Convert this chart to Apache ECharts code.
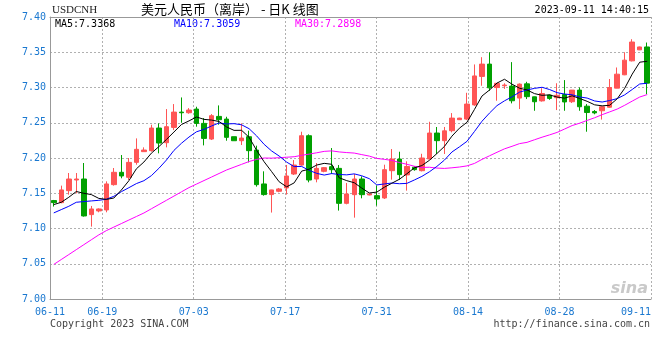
<!DOCTYPE html>
<html><head><meta charset="utf-8">
<script src="https://cdn.jsdelivr.net/npm/echarts@6/dist/echarts.min.js"></script>
<style>html,body{margin:0;padding:0;background:#fff}#c{width:660px;height:360px}</style>
</head><body><div id="c"></div>
<script>
// Daily candles, USD/CNH (80 sessions shown)
const opens = [7.1396,7.1367,7.1537,7.1688,7.1702,7.1197,7.1249,7.1263,7.1622,7.1797,
  7.1726,7.1938,7.2090,7.2104,7.2425,7.2217,7.2434,7.2651,7.2642,7.2694,
  7.2491,7.2269,7.2590,7.2552,7.2302,7.2245,7.2302,7.2113,7.1632,7.1481,
  7.1528,7.1575,7.1773,7.1900,7.2316,7.1702,7.1811,7.1877,7.1853,7.1357,
  7.1480,7.1702,7.1476,7.1466,7.1433,7.1820,7.1985,7.1760,7.1870,7.1820,
  7.1986,7.2354,7.2246,7.2387,7.2543,7.2552,7.2753,7.3157,7.3332,7.2999,
  7.3025,7.3020,7.2850,7.3052,7.2868,7.2810,7.2892,7.2855,7.2900,7.2798,
  7.2963,7.2735,7.2660,7.2670,7.2720,7.2991,7.3180,7.3378,7.3534,7.3575];
const closes = [7.1367,7.1547,7.1702,7.1702,7.1178,7.1277,7.1277,7.1632,7.1797,7.1745,
  7.1938,7.2123,7.2113,7.2425,7.2212,7.2444,7.2651,7.2642,7.2680,7.2491,
  7.2278,7.2600,7.2543,7.2293,7.2245,7.2283,7.2104,7.1622,7.1481,7.1547,
  7.1561,7.1745,7.1900,7.2316,7.1688,7.1853,7.1863,7.1834,7.1357,7.1490,
  7.1702,7.1480,7.1490,7.1419,7.1834,7.1985,7.1764,7.1880,7.1835,7.2000,
  7.2354,7.2246,7.2385,7.2566,7.2566,7.2765,7.3164,7.3332,7.2995,7.3060,
  7.3035,7.2812,7.3048,7.2870,7.2798,7.2915,7.2845,7.2890,7.2795,7.2963,
  7.2727,7.2645,7.2640,7.2727,7.3000,7.3189,7.3388,7.3645,7.3575,7.3062];
const lows = [7.1311,7.1358,7.1480,7.1499,7.1169,7.1027,7.1230,7.1230,7.1608,7.1712,
  7.1688,7.1905,7.2090,7.2090,7.2066,7.2151,7.2396,7.2500,7.2628,7.2444,
  7.2179,7.2255,7.2472,7.2245,7.2245,7.2184,7.1938,7.1594,7.1466,7.1226,
  7.1514,7.1481,7.1759,7.1891,7.1655,7.1655,7.1797,7.1773,7.1254,7.1343,
  7.1154,7.1428,7.1470,7.1324,7.1419,7.1693,7.1688,7.1537,7.1820,7.1810,
  7.1980,7.2057,7.2057,7.2364,7.2540,7.2538,7.2741,7.3025,7.2953,7.2812,
  7.2980,7.2775,7.2694,7.2836,7.2670,7.2800,7.2825,7.2680,7.2670,7.2780,
  7.2670,7.2373,7.2620,7.2545,7.2715,7.2990,7.3175,7.3370,7.3530,7.2906];
const highs = [7.1405,7.1608,7.1787,7.1787,7.1929,7.1320,7.1285,7.1669,7.1858,7.2042,
  7.2000,7.2278,7.2151,7.2472,7.2491,7.2694,7.2765,7.2859,7.2708,7.2727,
  7.2566,7.2623,7.2746,7.2585,7.2302,7.2491,7.2387,7.2175,7.1811,7.1550,
  7.1575,7.1901,7.1971,7.2373,7.2335,7.1929,7.1870,7.2141,7.1900,7.1646,
  7.1773,7.1740,7.1495,7.1608,7.1905,7.2127,7.2089,7.1953,7.1880,7.2060,
  7.2514,7.2440,7.2440,7.2637,7.2570,7.2925,7.3327,7.3430,7.3500,7.3062,
  7.3060,7.3360,7.3058,7.3081,7.2870,7.2990,7.2900,7.3060,7.3105,7.2965,
  7.3001,7.2765,7.2680,7.2735,7.3120,7.3284,7.3500,7.3685,7.3580,7.3638];
// Moving-average values before enough visible closes exist
const ma5Lead = [7.1339,7.1372,7.1443,7.1525];
const ma10Lead = [7.1221,7.1268,7.1315,7.1372,7.1382,7.1391,7.1400,7.1415,7.1457];
const ma30Lead = [7.049,7.056,7.063,7.070,7.077,7.084,7.091,7.097,7.102,7.107,
  7.112,7.117,7.122,7.128,7.134,7.140,7.146,7.152,7.158,7.163,
  7.168,7.173,7.178,7.183,7.187,7.191,7.195,7.198,7.200];
// Date axis (calendar days from 06-11)
const dateTickDays = [0,8,22,36,50,64,78,92];
const dateTickLabels = ['06-11','06-19','07-03','07-17','07-31','08-14','08-28','09-11'];
const yMin = 7.00, yMax = 7.40, yStep = 0.05;
const maLegend = ['MA5:7.3368','MA10:7.3059','MA30:7.2898'];
const maColors = ['#000000','#0000ff','#ff00ff'];

function movingAvg(lead, n) {
  return closes.map((c, i) => {
    if (i < n - 1) return lead[i];
    let s = 0;
    for (let k = i - n + 1; k <= i; k++) s += closes[k];
    return +(s / n).toFixed(4);
  });
}
const cats = closes.map((_, i) => String(i + 1));
const kData = closes.map((c, i) => [opens[i], c, lows[i], highs[i]]);
const ma5 = movingAvg(ma5Lead, 5), ma10 = movingAvg(ma10Lead, 10), ma30 = movingAvg(ma30Lead, 30);

const mono = 'DejaVu Sans Mono';
const blue = '#1a78d0';
const gridCol = '#b0b0b0';
const chart = echarts.init(document.getElementById('c'), null, {renderer: 'canvas'});
chart.setOption({
  animation: false,
  backgroundColor: '#fff',
  grid: {left: 50, right: 9, top: 17, bottom: 61},
  xAxis: [
    {type: 'category', data: cats, boundaryGap: true, position: 'bottom',
     axisLine: {show: true, onZero: false, lineStyle: {color: '#999'}},
     axisTick: {show: false}, axisLabel: {show: false}, splitLine: {show: false}},
    {type: 'value', min: 0, max: 92, position: 'bottom',
     axisLine: {show: false}, axisTick: {show: false, customValues: dateTickDays},
     axisLabel: {customValues: dateTickDays, color: blue, fontFamily: mono, fontSize: 10, margin: 8,
       alignMaxLabel: 'right',
       formatter: v => dateTickLabels[dateTickDays.indexOf(v)] || ''},
     splitLine: {show: true, lineStyle: {color: gridCol, type: [2, 2], width: 1}}},
    {type: 'value', min: 0, max: 1, position: 'top',
     axisLine: {show: true, onZero: false, lineStyle: {color: '#999'}},
     axisTick: {show: false}, axisLabel: {show: false}, splitLine: {show: false}}
  ],
  yAxis: {type: 'value', min: yMin, max: yMax, interval: yStep,
    axisLine: {show: true, onZero: false, lineStyle: {color: '#999'}},
    axisTick: {show: false},
    axisLabel: {color: blue, fontFamily: mono, fontSize: 10, margin: 4, formatter: v => v.toFixed(2)},
    splitLine: {show: true, lineStyle: {color: gridCol, type: [2, 2], width: 1}}},
  series: [
    {type: 'candlestick', xAxisIndex: 0, data: kData, barWidth: 5,
     itemStyle: {color: '#ff5555', color0: '#00a000', borderColor: '#ff5555', borderColor0: '#00a000', borderWidth: 1}},
    {type: 'line', xAxisIndex: 0, data: ma30, symbol: 'none', lineStyle: {color: maColors[2], width: 1}, silent: true},
    {type: 'line', xAxisIndex: 0, data: ma10, symbol: 'none', lineStyle: {color: maColors[1], width: 1}, silent: true},
    {type: 'line', xAxisIndex: 0, data: ma5, symbol: 'none', lineStyle: {color: maColors[0], width: 1}, silent: true}
  ],
  graphic: [
    {type: 'text', left: 52, top: 5, style: {text: 'USDCNH', font: '11px "Liberation Serif"', fill: '#222'}},
    {type: 'text', left: 141, top: 3, style: {text: '美元人民币（离岸） - 日K 线图', font: '13px "Noto Sans CJK SC"', fill: '#000'}},
    {type: 'text', right: 11, top: 5, style: {text: '2023-09-11 14:40:15', font: '10px "DejaVu Sans Mono"', fill: '#000'}},
    {type: 'text', left: 55, top: 19, style: {text: maLegend[0], font: '10px "DejaVu Sans Mono"', fill: maColors[0]}},
    {type: 'text', left: 174, top: 19, style: {text: maLegend[1], font: '10px "DejaVu Sans Mono"', fill: maColors[1]}},
    {type: 'text', left: 295, top: 19, style: {text: maLegend[2], font: '10px "DejaVu Sans Mono"', fill: maColors[2]}},
    {type: 'text', right: 12, bottom: 63, style: {text: 'sina', font: 'italic bold 16px "DejaVu Sans"', fill: '#c9c9c9'}},
    {type: 'text', left: 50, top: 319, style: {text: 'Copyright 2023 SINA.COM', font: '10px "DejaVu Sans Mono"', fill: '#444'}},
    {type: 'text', right: 10, top: 319, style: {text: 'http://finance.sina.com.cn', font: '10px "DejaVu Sans Mono"', fill: '#444'}}
  ]
});
</script></body></html>
